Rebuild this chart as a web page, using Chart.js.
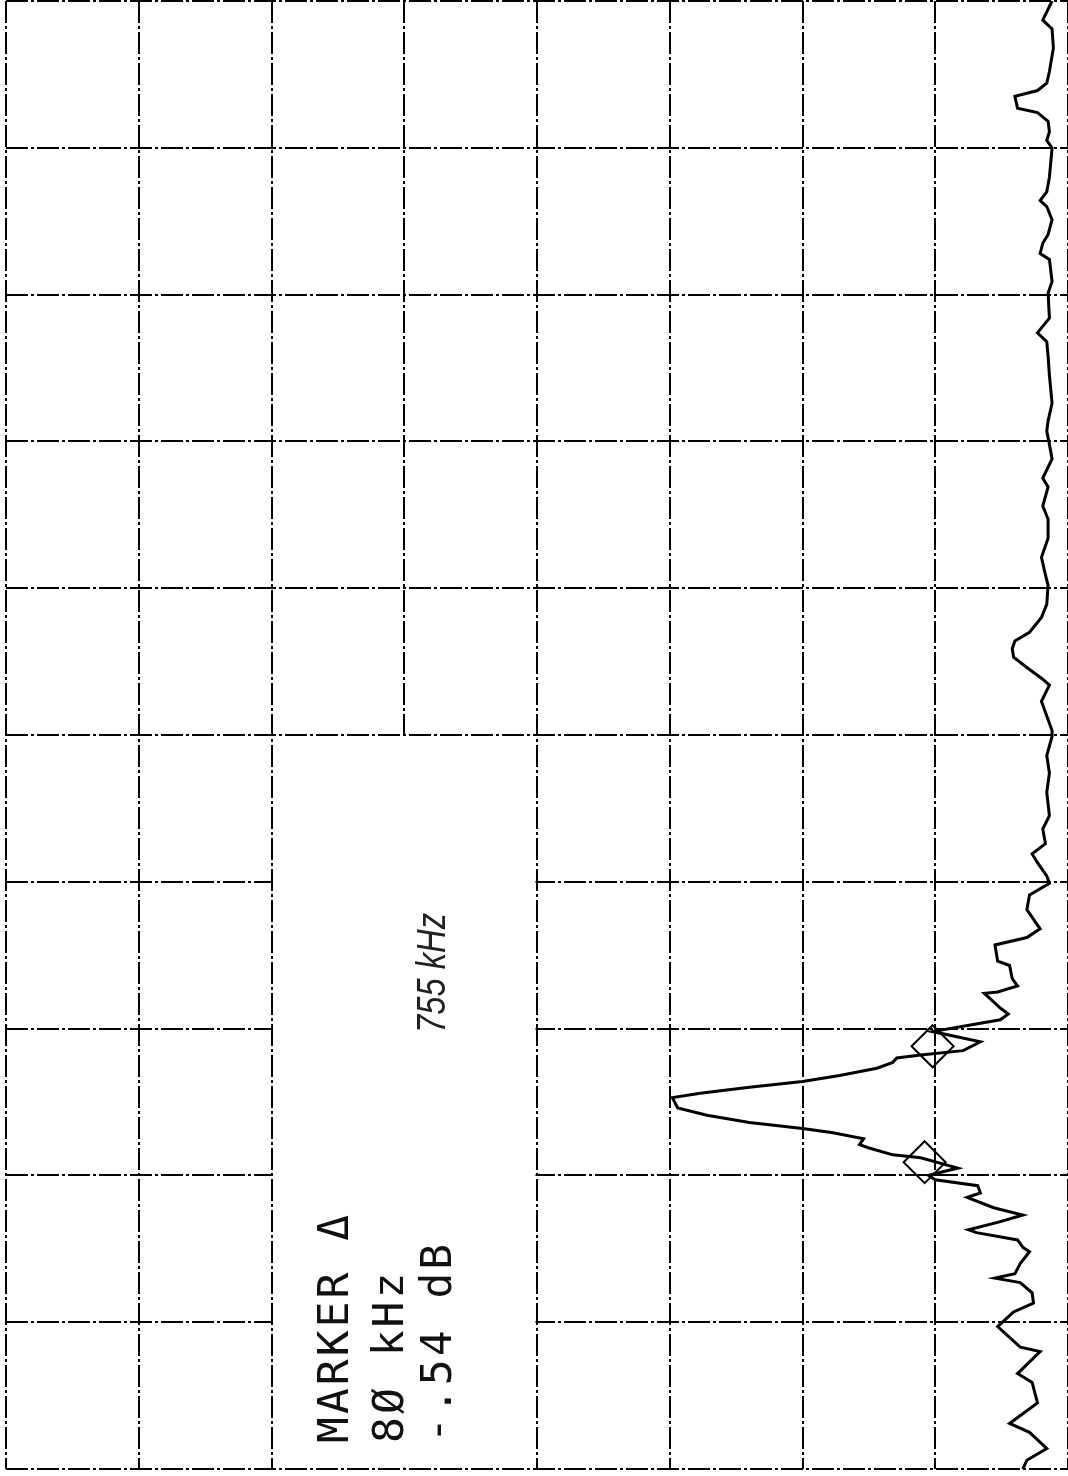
<!DOCTYPE html>
<html>
<head>
<meta charset="utf-8">
<script src="https://cdn.jsdelivr.net/npm/chart.js@4.4.1/dist/chart.umd.min.js"></script>
<style>
  html, body { margin: 0; padding: 0; background: #fff; }
  #wrap { width: 1068px; height: 1476px; }
</style>
</head>
<body>
<div id="wrap"><canvas id="myChart" width="1068" height="1476"></canvas></div>
<script>
// spectrum analyzer plot (printed turned on its side): 100 kHz/div, 10 dB/div
var freqKHz = [1500,1487,1481,1468,1452,1444,1439,1435,1427,1424,
  1418,1411,1405,1400,1380,1370,1364,1360,1351,1341,
  1335,1328,1324,1309,1301,1284,1274,1268,1258,1245,
  1226,1214,1207,1198,1188,1175,1169,1156,1147,1134,
  1121,1109,1102,1089,1080,1070,1064,1059,1053,1046,
  1038,1034,1023,1013,1003,999,986,974,961,945,
  936,926,919,913,904,899,891,881,868,862,
  857,846,843,834,829,825,824,814,810,806,
  798,791,785,782,780,777,773,768,764,760,
  756,753,746,741,736,732,729,725,721,719,
  714,712,705,700,697,693,688,685,678,673,
  668,663,661,656,651,648,640,633,630,627,
  620,613,607,597,583,580,565,559,545,531,
  525,514,506,500];
var levelDb = [-78.8,-78.1,-78.8,-78.9,-78.6,-78.4,-77.7,-76.0,-76.2,-77.7,
  -78.5,-78.6,-78.4,-78.8,-78.6,-78.4,-77.9,-78.4,-78.8,-78.5,
  -78.1,-77.9,-78.6,-78.8,-78.5,-78.6,-77.7,-78.4,-78.5,-78.6,
  -78.8,-78.5,-78.4,-78.6,-78.8,-78.1,-78.5,-78.1,-78.5,-78.5,
  -78.0,-78.3,-78.5,-78.4,-78.0,-77.1,-76.0,-75.8,-75.9,-76.9,
  -78.1,-78.6,-78.0,-78.4,-78.8,-78.8,-78.4,-78.6,-78.4,-78.6,
  -78.1,-78.3,-77.3,-77.7,-78.4,-78.6,-77.1,-76.9,-77.9,-76.9,
  -74.5,-74.7,-75.6,-75.8,-76.2,-74.7,-73.7,-74.9,-75.5,-74.9,
  -69.8,-73.4,-72.1,-68.9,-67.1,-66.8,-65.6,-62.8,-60.0,-56.0,
  -52.3,-50.2,-50.6,-52.8,-56.0,-60.0,-62.3,-64.6,-64.3,-64.9,
  -66.8,-68.9,-71.7,-69.5,-70.0,-73.2,-73.4,-72.4,-74.4,-76.6,
  -74.7,-72.5,-73.1,-76.2,-76.6,-77.1,-76.4,-76.0,-74.5,-76.4,
  -77.3,-77.4,-75.9,-74.7,-76.4,-77.9,-76.2,-77.3,-77.7,-75.6,
  -77.1,-78.4,-76.9,-76.6];

// delta markers
var markerFreq = [788, 709];
var markerDb = [-69.8, -69.2];

// graticule
var gridDb = [0, -10, -20, -30, -40, -50, -60, -70, -80];
var gridFreq = [500, 600, 700, 800, 900, 1000, 1100, 1200, 1300, 1400, 1500];

// annotation box (erases graticule) and its text
var boxDb = [-20, -40];
var boxFreq = [500, 1000];
var markerLines = ["MARKER \u0394", "8\u00D8 kHz", "-.54 dB"];
var noteText = "755 kHz";

function upText(ctx, str, x, y) {
  ctx.save();
  ctx.translate(x, y);
  ctx.rotate(-Math.PI / 2);
  ctx.fillText(str, 0, 0);
  ctx.restore();
}

var boxPlugin = {
  id: 'markerBox',
  beforeDatasetsDraw: function (chart) {
    var ctx = chart.ctx, xs = chart.scales.x, ys = chart.scales.y;
    var l = xs.getPixelForValue(boxDb[0]), r = xs.getPixelForValue(boxDb[1]);
    var t = ys.getPixelForValue(boxFreq[1]), b = ys.getPixelForValue(boxFreq[0]);
    ctx.save();
    ctx.fillStyle = '#fff';
    ctx.fillRect(l + 1.5, t + 1.5, r - l - 3, b - t - 3);

    ctx.fillStyle = '#111';
    ctx.textBaseline = 'alphabetic';
    ctx.font = '43px "DejaVu Sans Mono"';
    ctx.letterSpacing = '3px';
    upText(ctx, markerLines[0], l + 76, b - 26);
    upText(ctx, markerLines[1], l + 131, b - 26);
    upText(ctx, markerLines[2], l + 179, b - 26);

    // handwritten note
    ctx.letterSpacing = '0px';
    ctx.font = 'italic 40px "Liberation Sans"';
    var w = ctx.measureText(noteText).width;
    ctx.save();
    ctx.translate(l + 173, b - 436);
    ctx.rotate(-Math.PI / 2);
    ctx.scale(120 / w, 1);
    ctx.fillStyle = '#222';
    ctx.fillText(noteText, 0, 0);
    ctx.restore();
    ctx.restore();
  }
};

var trace = freqKHz.map(function (f, i) { return { x: levelDb[i], y: f }; });
var marks = markerFreq.map(function (f, i) { return { x: markerDb[i], y: f }; });

var ctx = document.getElementById('myChart').getContext('2d');
var myChart = new Chart(ctx, {
  type: 'scatter',
  data: {
    datasets: [{
      data: trace,
      showLine: true,
      borderColor: '#000',
      borderWidth: 3,
      pointRadius: 0,
      tension: 0
    }, {
      data: marks,
      showLine: false,
      pointStyle: 'rectRot',
      pointRadius: 21,
      borderColor: '#000',
      borderWidth: 2,
      backgroundColor: 'rgba(0,0,0,0)'
    }]
  },
  options: {
    responsive: false,
    animation: false,
    devicePixelRatio: 1,
    layout: { autoPadding: false, padding: { left: 6, right: 0, top: 1, bottom: 7 } },
    plugins: { legend: { display: false }, tooltip: { enabled: false } },
    scales: {
      x: {
        type: 'linear',
        min: -80, max: 0,
        reverse: true,
        afterBuildTicks: function (s) { s.ticks = gridDb.map(function (v) { return { value: v }; }); },
        ticks: { display: false },
        grid: { color: '#000', lineWidth: 2, drawTicks: false },
        border: { display: false, dash: [22, 3, 3, 3] }
      },
      y: {
        type: 'linear',
        min: 500, max: 1500,
        afterBuildTicks: function (s) { s.ticks = gridFreq.map(function (v) { return { value: v }; }); },
        ticks: { display: false },
        grid: { color: '#000', lineWidth: 2, drawTicks: false },
        border: { display: false, dash: [22, 3, 3, 3] }
      }
    }
  },
  plugins: [boxPlugin]
});
</script>
</body>
</html>
